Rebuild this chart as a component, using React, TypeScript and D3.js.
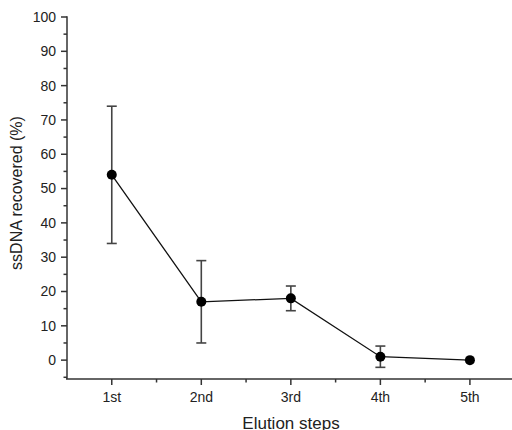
import React from "react";
import * as d3 from "d3";

const steps = ["1st", "2nd", "3rd", "4th", "5th"];
const recovered = [54, 17, 18, 1, 0];
const errors = [20, 12, 3.6, 3.1, 0];
const yTicks = [0, 10, 20, 30, 40, 50, 60, 70, 80, 90, 100];

export default function App() {
  const W = 512, H = 430;
  const x = d3.scaleLinear().domain([0.5, 5.47]).range([67, 512]);
  const y = d3.scaleLinear().domain([-5.5, 100]).range([379, 17]);
  const data = steps.map((s, i) => ({ s, i: i + 1, v: recovered[i], e: errors[i] }));
  const line = d3.line<any>().x(d => x(d.i)).y(d => y(d.v));
  const minorY = d3.range(-5, 100, 10);
  const minorX = d3.range(1.5, 5.5, 1);
  const font = "Arial, 'Liberation Sans', sans-serif";
  const axisCol = "#333";
  const x0 = x(0.5);
  const yb = y(-5.5);
  return (
    <svg width={W} height={H} style={{ position: "absolute", left: 0, top: 0 }}>
      <rect width={W} height={H} fill="#fff" />
      {/* y axis */}
      <line x1={x0} x2={x0} y1={y(100) - 0.75} y2={yb} stroke={axisCol} strokeWidth={1.5} />
      {yTicks.map(t => (
        <g key={t}>
          <line x1={x0 - 6} x2={x0} y1={y(t)} y2={y(t)} stroke={axisCol} strokeWidth={1.5} />
          <text x={x0 - 11} y={y(t)} dy="0.35em" textAnchor="end" fontFamily={font} fontSize={14} fill="#222">{t}</text>
        </g>
      ))}
      {minorY.map(t => (
        <line key={t} x1={x0 - 3.5} x2={x0} y1={y(t)} y2={y(t)} stroke={axisCol} strokeWidth={1.5} />
      ))}
      {/* x axis */}
      <line x1={x0 - 1} x2={W} y1={yb} y2={yb} stroke={axisCol} strokeWidth={1.5} />
      {data.map(d => (
        <g key={d.s}>
          <line x1={x(d.i)} x2={x(d.i)} y1={yb} y2={yb + 6} stroke={axisCol} strokeWidth={1.5} />
          <text x={x(d.i)} y={yb + 18} dy="0.35em" textAnchor="middle" fontFamily={font} fontSize={14} fill="#222">{d.s}</text>
        </g>
      ))}
      {minorX.map(t => (
        <line key={t} x1={x(t)} x2={x(t)} y1={yb} y2={yb + 3.5} stroke={axisCol} strokeWidth={1.5} />
      ))}
      <text x={291} y={423} dy="0.35em" textAnchor="middle" fontFamily={font} fontSize={17} fill="#222">Elution steps</text>
      <text transform={`translate(16, ${193}) rotate(-90)`} dy="0.35em" textAnchor="middle" fontFamily={font} fontSize={16} fill="#222">ssDNA recovered (%)</text>
      {/* line */}
      <path d={line(data) || ""} fill="none" stroke="#111" strokeWidth={1.3} />
      {/* error bars */}
      {data.filter(d => d.e > 0).map(d => (
        <g key={d.s} stroke="#444" strokeWidth={1.6}>
          <line x1={x(d.i)} x2={x(d.i)} y1={y(d.v + d.e)} y2={y(d.v - d.e)} />
          <line x1={x(d.i) - 5} x2={x(d.i) + 5} y1={y(d.v + d.e)} y2={y(d.v + d.e)} />
          <line x1={x(d.i) - 5} x2={x(d.i) + 5} y1={y(d.v - d.e)} y2={y(d.v - d.e)} />
        </g>
      ))}
      {data.map(d => (
        <circle key={d.s} cx={x(d.i)} cy={y(d.v)} r={5} fill="#000" />
      ))}
    </svg>
  );
}
